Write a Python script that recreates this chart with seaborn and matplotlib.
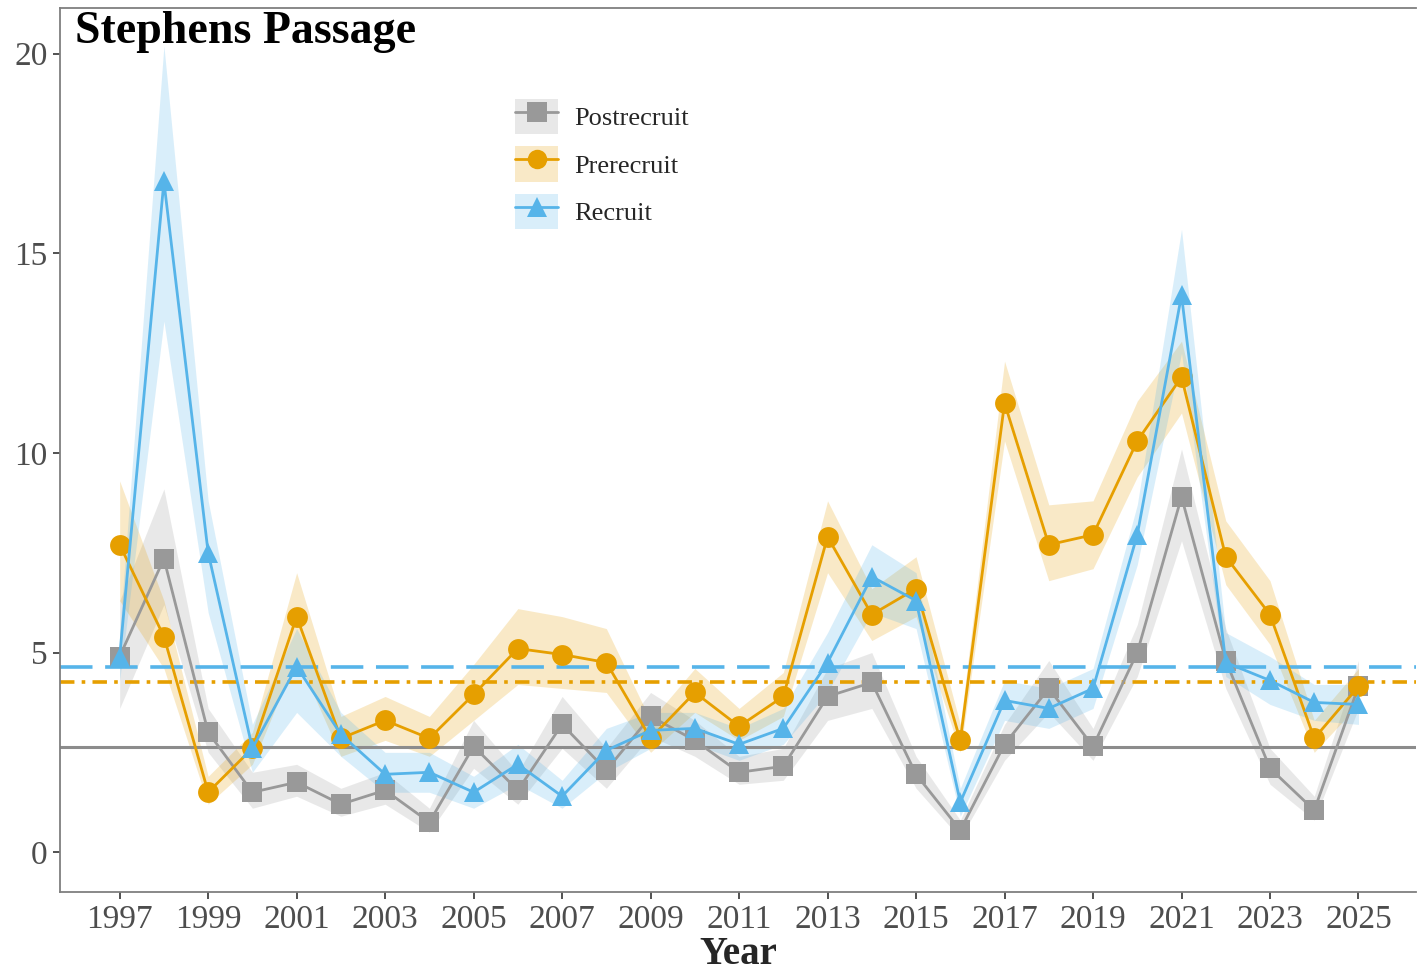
import numpy as np
import pandas as pd
import matplotlib
matplotlib.use("Agg")
import matplotlib.pyplot as plt
from matplotlib.lines import Line2D
from matplotlib.patches import Patch
import seaborn as sns

years = list(range(1997, 2026))

post = [4.9, 7.35, 3.0, 1.5, 1.75, 1.2, 1.55, 0.75, 2.65, 1.55, 3.2, 2.05, 3.4, 2.8, 2.0,
        2.15, 3.9, 4.25, 1.95, 0.55, 2.7, 4.1, 2.65, 5.0, 8.9, 4.8, 2.1, 1.05, 4.15]
post_lo = [3.6, 6.2, 2.5, 1.1, 1.4, 0.9, 1.2, 0.5, 2.1, 1.2, 2.6, 1.6, 2.9, 2.4, 1.7,
           1.8, 3.3, 3.6, 1.6, 0.35, 2.3, 3.5, 2.3, 4.4, 7.8, 4.1, 1.7, 0.8, 3.6]
post_hi = [6.3, 9.1, 3.6, 2.0, 2.2, 1.6, 2.0, 1.1, 3.3, 2.0, 3.9, 2.6, 4.0, 3.3, 2.4,
           2.6, 4.6, 5.0, 2.4, 0.8, 3.2, 4.8, 3.1, 5.7, 10.1, 5.6, 2.6, 1.4, 4.8]

pre = [7.7, 5.4, 1.5, 2.6, 5.9, 2.85, 3.3, 2.85, 3.95, 5.1, 4.95, 4.75, 2.85, 4.0, 3.15,
       3.9, 7.9, 5.95, 6.6, 2.8, 11.25, 7.7, 7.95, 10.3, 11.9, 7.4, 5.95, 2.85, 4.15]
pre_lo = [6.3, 4.6, 1.2, 2.2, 4.9, 2.4, 2.8, 2.4, 3.3, 4.2, 4.1, 4.0, 2.5, 3.5, 2.8,
          3.4, 7.0, 5.3, 5.9, 2.5, 10.3, 6.8, 7.1, 9.4, 11.0, 6.7, 5.2, 2.5, 3.7]
pre_hi = [9.3, 6.3, 1.9, 3.0, 7.0, 3.4, 3.9, 3.4, 4.7, 6.1, 5.9, 5.6, 3.3, 4.6, 3.6,
          4.5, 8.8, 6.6, 7.4, 3.2, 12.3, 8.7, 8.8, 11.3, 12.8, 8.3, 6.8, 3.3, 4.6]

rec = [4.9, 16.8, 7.5, 2.6, 4.65, 2.95, 1.95, 2.0, 1.5, 2.2, 1.4, 2.55, 3.05, 3.1, 2.7,
       3.1, 4.75, 6.9, 6.3, 1.25, 3.8, 3.6, 4.1, 7.95, 13.95, 4.75, 4.3, 3.75, 3.7]
rec_lo = [4.3, 13.3, 6.0, 2.0, 3.5, 2.4, 1.5, 1.5, 1.1, 1.7, 1.1, 2.0, 2.6, 2.7, 2.3,
          2.7, 4.0, 6.0, 5.6, 0.9, 3.3, 3.1, 3.6, 7.2, 12.5, 4.4, 3.7, 3.3, 3.2]
rec_hi = [5.5, 20.2, 8.8, 3.2, 5.6, 3.5, 2.5, 2.5, 1.9, 2.7, 1.8, 3.1, 3.5, 3.5, 3.1,
          3.6, 5.5, 7.7, 7.0, 1.6, 4.3, 4.1, 4.6, 8.7, 15.6, 5.5, 4.9, 4.2, 4.2]

# long-term means (horizontal reference lines)
mean_post = 2.63
mean_pre = 4.25
mean_rec = 4.65

stages = ["Postrecruit", "Prerecruit", "Recruit"]
colors = {"Postrecruit": "#999999", "Prerecruit": "#E69F00", "Recruit": "#56B4E9"}
markers = {"Postrecruit": "s", "Prerecruit": "o", "Recruit": "^"}

df = pd.concat([
    pd.DataFrame({"Year": years, "value": post, "lo": post_lo, "hi": post_hi, "stage": "Postrecruit"}),
    pd.DataFrame({"Year": years, "value": pre, "lo": pre_lo, "hi": pre_hi, "stage": "Prerecruit"}),
    pd.DataFrame({"Year": years, "value": rec, "lo": rec_lo, "hi": rec_hi, "stage": "Recruit"}),
], ignore_index=True)

sns.set_theme(style="white")
plt.rcParams["font.family"] = ["Liberation Serif", "DejaVu Serif"]

fig = plt.figure(figsize=(14.17, 9.76), dpi=100)
ax = fig.add_axes([0.0423, 0.086, 0.957, 0.906])

# confidence ribbons
for s in stages:
    d = df[df["stage"] == s]
    ax.fill_between(d["Year"], d["lo"], d["hi"], color=colors[s], alpha=0.22,
                    linewidth=0, zorder=1)

ax.axhline(mean_post, color="#8c8c8c", linewidth=2.2, linestyle="-", zorder=2)
ax.axhline(mean_pre, color="#E69F00", linewidth=2.6, linestyle=(0, (4, 2, 1, 2)), zorder=2)
ax.axhline(mean_rec, color="#56B4E9", linewidth=2.6, linestyle=(0, (9, 3.5)), zorder=2)

sns.lineplot(data=df, x="Year", y="value", hue="stage", style="stage",
             hue_order=stages, style_order=stages, palette=colors,
             markers=markers, dashes=False, markersize=15, linewidth=2,
             markeredgewidth=0, legend=False, ax=ax, zorder=3)

ax.set_xlim(1995.65, 2026.3)
ax.set_ylim(-1.0, 21.15)
ax.set_xticks(range(1997, 2026, 2))
ax.set_yticks([0, 5, 10, 15, 20])
ax.tick_params(axis="both", labelsize=24, labelcolor="#4d4d4d", color="#333333",
               length=5, width=1.2, left=True, bottom=True, pad=4)
ax.set_xlabel("Year", fontsize=28, fontweight="bold", labelpad=1)
ax.set_ylabel("")
for side in ["left", "bottom", "top"]:
    ax.spines[side].set_color("#7f7f7f")
    ax.spines[side].set_linewidth(1.3)
ax.spines["right"].set_visible(False)

ax.text(0.011, 0.996, "Stephens Passage", transform=ax.transAxes, ha="left", va="top",
        fontsize=33, fontweight="bold", color="black")

handles = []
for s in stages:
    handles.append((Patch(facecolor=colors[s], alpha=0.22, edgecolor="none"),
                    Line2D([], [], color=colors[s], marker=markers[s], markersize=14,
                           linewidth=2, markeredgewidth=0)))
ax.legend(handles, stages, loc="upper left", bbox_to_anchor=(0.318, 0.924),
          frameon=False, fontsize=19, handlelength=1.65, handleheight=1.7,
          labelspacing=0.45, handletextpad=0.6)

fig.savefig("out.png", dpi=100)
